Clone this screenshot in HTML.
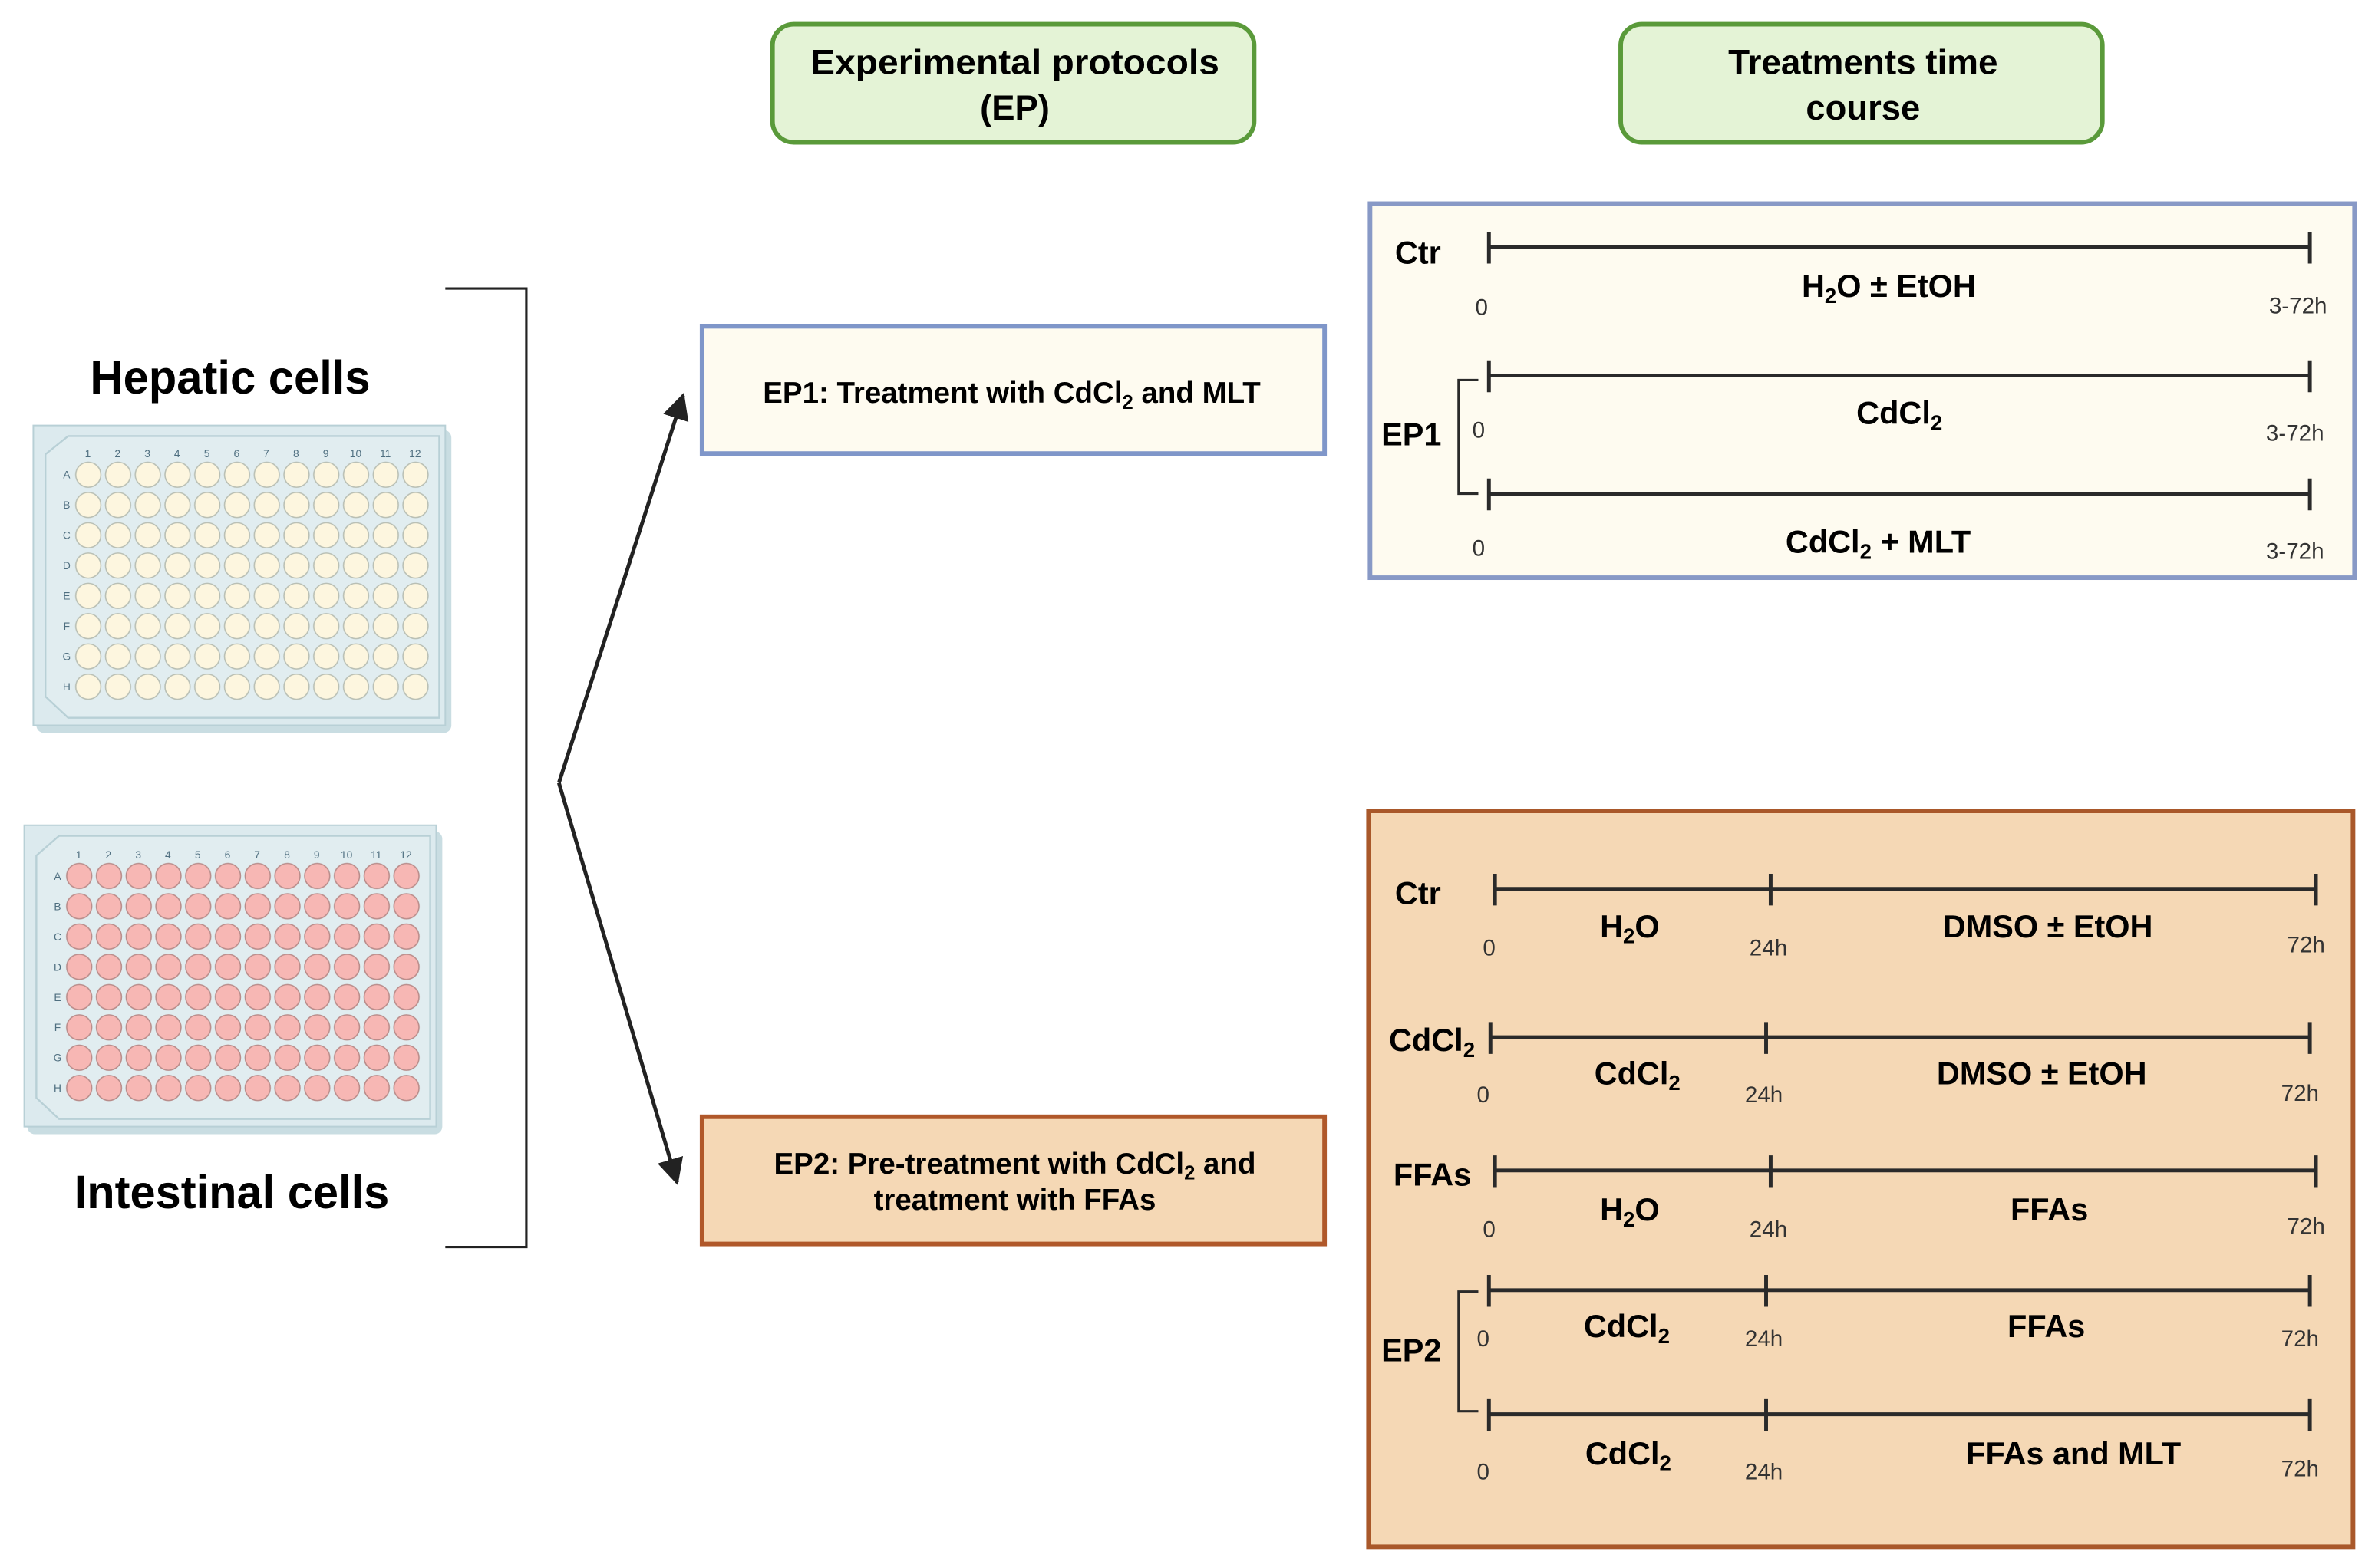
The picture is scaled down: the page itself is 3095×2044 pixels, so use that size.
<!DOCTYPE html>
<html><head><meta charset="utf-8"><style>html,body{margin:0;padding:0;background:#fff}svg{display:block}</style></head>
<body>
<svg width="3095" height="2044" viewBox="0 0 1568 1035.5" preserveAspectRatio="none" xmlns="http://www.w3.org/2000/svg" font-family="Liberation Sans, Arial, sans-serif">
<defs>
<pattern id="wy" x="48.5" y="303.5" width="19.64" height="20" patternUnits="userSpaceOnUse"><circle cx="9.8" cy="10" r="8.3" fill="#fdf6df" stroke="#b9bfb4" stroke-width="0.8"/></pattern>
<pattern id="wp" x="42.5" y="568.5" width="19.64" height="20" patternUnits="userSpaceOnUse"><circle cx="9.8" cy="10" r="8.3" fill="#f7b7b4" stroke="#b98c8a" stroke-width="0.8"/></pattern>
<marker id="ah" viewBox="0 0 10 10" refX="9" refY="5" markerWidth="7" markerHeight="7" orient="auto"><path d="M0,0 L10,5 L0,10 z" fill="#222"/></marker>
</defs>
<rect width="1568" height="1035.5" fill="#fff"/>

<!-- header boxes -->
<rect x="510" y="16" width="318" height="78" rx="14" fill="#e4f3d6" stroke="#5a9a3a" stroke-width="3"/>
<text x="670" y="49" font-size="23" font-weight="bold" text-anchor="middle" textLength="270" lengthAdjust="spacingAndGlyphs">Experimental protocols</text>
<text x="670" y="79" font-size="23" font-weight="bold" text-anchor="middle">(EP)</text>
<rect x="1070" y="16" width="318" height="78" rx="14" fill="#e4f3d6" stroke="#5a9a3a" stroke-width="3"/>
<text x="1230" y="49" font-size="23" font-weight="bold" text-anchor="middle" textLength="178" lengthAdjust="spacingAndGlyphs">Treatments time</text>
<text x="1230" y="79" font-size="23" font-weight="bold" text-anchor="middle">course</text>

<!-- left labels -->
<text x="152" y="260" font-size="31" font-weight="bold" text-anchor="middle" textLength="185" lengthAdjust="spacingAndGlyphs">Hepatic cells</text>
<text x="153" y="798" font-size="31" font-weight="bold" text-anchor="middle" textLength="208" lengthAdjust="spacingAndGlyphs">Intestinal cells</text>

<!-- hepatic plate -->
<rect x="24" y="284" width="274" height="200" rx="5" fill="#c9dde2"/>
<path d="M22,281 H294 V479 H22 Z" fill="#dceaee" stroke="#b8d0d6" stroke-width="1"/>
<path d="M45,288 H290 V474 H45 L30,460 V300 Z" fill="#e1edf0" stroke="#b8d0d6" stroke-width="1.2"/>
<rect x="48.5" y="303.5" width="235.7" height="160" fill="url(#wy)"/>
<g font-size="7" fill="#4f6f80" text-anchor="middle">
<text x="58" y="302">1</text><text x="77.6" y="302">2</text><text x="97.3" y="302">3</text><text x="116.9" y="302">4</text><text x="136.6" y="302">5</text><text x="156.2" y="302">6</text><text x="175.8" y="302">7</text><text x="195.5" y="302">8</text><text x="215.1" y="302">9</text><text x="234.8" y="302">10</text><text x="254.4" y="302">11</text><text x="274" y="302">12</text>
<text x="44" y="316">A</text><text x="44" y="336">B</text><text x="44" y="356">C</text><text x="44" y="376">D</text><text x="44" y="396">E</text><text x="44" y="416">F</text><text x="44" y="436">G</text><text x="44" y="456">H</text>
</g>

<!-- intestinal plate -->
<rect x="18" y="549" width="274" height="200" rx="5" fill="#c9dde2"/>
<path d="M16,545 H288 V744 H16 Z" fill="#dceaee" stroke="#b8d0d6" stroke-width="1"/>
<path d="M39,552 H284 V739 H39 L24,725 V565 Z" fill="#e1edf0" stroke="#b8d0d6" stroke-width="1.2"/>
<rect x="42.5" y="568.5" width="235.7" height="160" fill="url(#wp)"/>
<g font-size="7" fill="#4f6f80" text-anchor="middle">
<text x="52" y="567">1</text><text x="71.6" y="567">2</text><text x="91.3" y="567">3</text><text x="110.9" y="567">4</text><text x="130.6" y="567">5</text><text x="150.2" y="567">6</text><text x="169.8" y="567">7</text><text x="189.5" y="567">8</text><text x="209.1" y="567">9</text><text x="228.8" y="567">10</text><text x="248.4" y="567">11</text><text x="268" y="567">12</text>
<text x="38" y="581">A</text><text x="38" y="601">B</text><text x="38" y="621">C</text><text x="38" y="641">D</text><text x="38" y="661">E</text><text x="38" y="681">F</text><text x="38" y="701">G</text><text x="38" y="721">H</text>
</g>

<!-- bracket and arrows -->
<path d="M294,190.5 H347.5 V823.5 H294" fill="none" stroke="#222" stroke-width="1.6"/>
<line x1="369" y1="517" x2="451" y2="261" stroke="#222" stroke-width="2.5" marker-end="url(#ah)"/>
<line x1="369" y1="517" x2="447" y2="781" stroke="#222" stroke-width="2.5" marker-end="url(#ah)"/>

<!-- EP boxes -->
<rect x="463.5" y="215.5" width="411" height="84" fill="#fefbf0" stroke="#7f96c9" stroke-width="3"/>
<text x="668" y="266" font-size="19.5" font-weight="bold" text-anchor="middle">EP1:  Treatment with CdCl<tspan font-size="13" dy="4">2</tspan><tspan dy="-4"> and MLT</tspan></text>
<rect x="463.5" y="737.5" width="411" height="84" fill="#f5d8b5" stroke="#b0582a" stroke-width="3"/>
<text x="670" y="775" font-size="19.5" font-weight="bold" text-anchor="middle">EP2:  Pre-treatment with CdCl<tspan font-size="13" dy="4">2</tspan><tspan dy="-4"> and</tspan></text>
<text x="670" y="799" font-size="19.5" font-weight="bold" text-anchor="middle">treatment with FFAs</text>

<!-- blue timeline box -->
<rect x="904.5" y="134.5" width="650" height="247" fill="#fefbf0" stroke="#8899c6" stroke-width="3"/>
<g stroke="#2a2a2a" stroke-width="2.5" fill="none">
<path d="M983,163 H1525 M983,153 V174 M1525,153 V174"/>
<path d="M983,248 H1525 M983,238 V259 M1525,238 V259"/>
<path d="M983,326 H1525 M983,316 V337 M1525,316 V337"/>
<path d="M976,251 H963 V326 H976" stroke-width="1.6"/>
</g>
<g font-weight="bold" font-size="21">
<text x="921" y="174">Ctr</text>
<text x="1247" y="196" text-anchor="middle">H<tspan font-size="14" dy="4">2</tspan><tspan dy="-4">O ± EtOH</tspan></text>
<text x="912" y="294">EP1</text>
<text x="1254" y="280" text-anchor="middle">CdCl<tspan font-size="14" dy="4">2</tspan></text>
<text x="1240" y="365" text-anchor="middle">CdCl<tspan font-size="14" dy="4">2</tspan><tspan dy="-4"> + MLT</tspan></text>
</g>
<g font-size="15" fill="#333">
<text x="974" y="208">0</text><text x="1498" y="207">3-72h</text>
<text x="972" y="289">0</text><text x="1496" y="291">3-72h</text>
<text x="972" y="367">0</text><text x="1496" y="369">3-72h</text>
</g>

<!-- orange timeline box -->
<rect x="903.5" y="535.5" width="650" height="486" fill="#f5d8b5" stroke="#a9582a" stroke-width="3"/>
<g stroke="#2a2a2a" stroke-width="2.5" fill="none">
<path d="M987,587 H1529 M987,577 V598 M1169,577 V598 M1529,577 V598"/>
<path d="M984,685 H1525 M984,675 V696 M1166,675 V696 M1525,675 V696"/>
<path d="M987,773 H1529 M987,763 V784 M1169,763 V784 M1529,763 V784"/>
<path d="M983,852 H1525 M983,842 V863 M1166,842 V863 M1525,842 V863"/>
<path d="M983,934 H1525 M983,924 V945 M1166,924 V945 M1525,924 V945"/>
<path d="M976,853 H963 V932 H976" stroke-width="1.6"/>
</g>
<g font-weight="bold" font-size="21">
<text x="921" y="597">Ctr</text>
<text x="1076" y="619" text-anchor="middle">H<tspan font-size="14" dy="4">2</tspan><tspan dy="-4">O</tspan></text>
<text x="1352" y="619" text-anchor="middle">DMSO ± EtOH</text>
<text x="917" y="694">CdCl<tspan font-size="14" dy="4">2</tspan></text>
<text x="1081" y="716" text-anchor="middle">CdCl<tspan font-size="14" dy="4">2</tspan></text>
<text x="1348" y="716" text-anchor="middle">DMSO ± EtOH</text>
<text x="920" y="783">FFAs</text>
<text x="1076" y="806" text-anchor="middle">H<tspan font-size="14" dy="4">2</tspan><tspan dy="-4">O</tspan></text>
<text x="1353" y="806" text-anchor="middle">FFAs</text>
<text x="912" y="899">EP2</text>
<text x="1074" y="883" text-anchor="middle">CdCl<tspan font-size="14" dy="4">2</tspan></text>
<text x="1351" y="883" text-anchor="middle">FFAs</text>
<text x="1075" y="967" text-anchor="middle">CdCl<tspan font-size="14" dy="4">2</tspan></text>
<text x="1369" y="967" text-anchor="middle">FFAs and MLT</text>
</g>
<g font-size="15" fill="#333">
<text x="979" y="631">0</text><text x="1155" y="631">24h</text><text x="1510" y="629">72h</text>
<text x="975" y="728">0</text><text x="1152" y="728">24h</text><text x="1506" y="727">72h</text>
<text x="979" y="817">0</text><text x="1155" y="817">24h</text><text x="1510" y="815">72h</text>
<text x="975" y="889">0</text><text x="1152" y="889">24h</text><text x="1506" y="889">72h</text>
<text x="975" y="977">0</text><text x="1152" y="977">24h</text><text x="1506" y="975">72h</text>
</g>
</svg>
</body></html>
